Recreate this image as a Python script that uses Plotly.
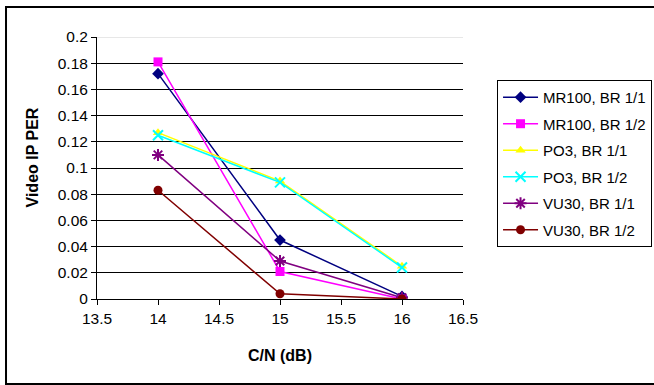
import plotly.graph_objects as go

cn_db = [14, 15, 16]
series_names = ["MR100, BR 1/1", "MR100, BR 1/2", "PO3, BR 1/1", "PO3, BR 1/2", "VU30, BR 1/1", "VU30, BR 1/2"]
mr100_br11 = [0.172, 0.045, 0.002]
mr100_br12 = [0.181, 0.021, 0.0]
po3_br11 = [0.127, 0.090, 0.025]
po3_br12 = [0.125, 0.089, 0.024]
vu30_br11 = [0.110, 0.029, 0.001]
vu30_br12 = [0.083, 0.004, 0.0]
x_ticks = [13.5, 14, 14.5, 15, 15.5, 16, 16.5]
y_ticks = [0, 0.02, 0.04, 0.06, 0.08, 0.1, 0.12, 0.14, 0.16, 0.18, 0.2]

values = [mr100_br11, mr100_br12, po3_br11, po3_br12, vu30_br11, vu30_br12]
colors = ["#000080", "#FF00FF", "#FFFF00", "#00FFFF", "#800080", "#800000"]
symbols = ["diamond", "square", "triangle-up", "x-thin-open", "asterisk-open", "circle"]
sizes = [9, 9, 9, 10, 10, 9]

fig = go.Figure()
for i, (name, vals) in enumerate(zip(series_names, values)):
    sym = symbols[i]
    marker = dict(symbol=sym, size=sizes[i], color=colors[i])
    if sym.endswith("-open"):
        marker["line"] = dict(color=colors[i], width=2)
    fig.add_trace(go.Scatter(
        x=cn_db, y=vals, name=name, mode="lines+markers",
        line=dict(color=colors[i], width=1.5),
        marker=marker, legendgroup=str(i),
    ))

font = "Liberation Sans, Arial, sans-serif"
fig.update_layout(
    width=654, height=385,
    margin=dict(l=97, r=191, t=37, b=86, autoexpand=False),
    paper_bgcolor="white", plot_bgcolor="white",
    font=dict(family=font, size=16, color="black"),
    showlegend=True,
    legend=dict(
        x=1.093, y=0.836, xanchor="left", yanchor="top",
        bordercolor="black", borderwidth=1, bgcolor="white",
        font=dict(size=15), tracegroupgap=4, itemwidth=35,
    ),
    xaxis=dict(
        range=[13.5, 16.5], tickvals=x_ticks, ticktext=[f"{v:g}" for v in x_ticks],
        showgrid=False, zeroline=False, showline=True, linecolor="black", linewidth=1,
        ticks="outside", ticklen=5, tickcolor="black", tickfont=dict(size=15.5),
    ),
    yaxis=dict(
        range=[0, 0.2], tickvals=y_ticks, ticktext=[f"{v:g}" for v in y_ticks],
        showgrid=True, gridcolor="black", gridwidth=1, zeroline=False,
        showline=True, linecolor="black", linewidth=1,
        ticks="outside", ticklen=5, tickcolor="black", tickfont=dict(size=15.5),
    ),
    annotations=[
        dict(text="<b>C/N (dB)</b>", xref="paper", yref="paper", x=0.5, y=-0.214,
             xanchor="center", yanchor="middle", showarrow=False, font=dict(size=16)),
        dict(text="<b>Video IP PER</b>", xref="paper", yref="paper", x=-0.175, y=0.54,
             xanchor="center", yanchor="middle", textangle=-90, showarrow=False, font=dict(size=16)),
    ],
    shapes=[
        dict(type="line", xref="paper", yref="y", x0=0, x1=1, y0=0.2, y1=0.2,
             line=dict(color="#d0d0d0", width=1)),
        dict(type="rect", xref="paper", yref="paper", x0=-0.2486, x1=1.6, y0=-0.3244, y1=1.1145,
             line=dict(color="black", width=2), layer="below"),
    ],
)

fig.write_html("out.html")
